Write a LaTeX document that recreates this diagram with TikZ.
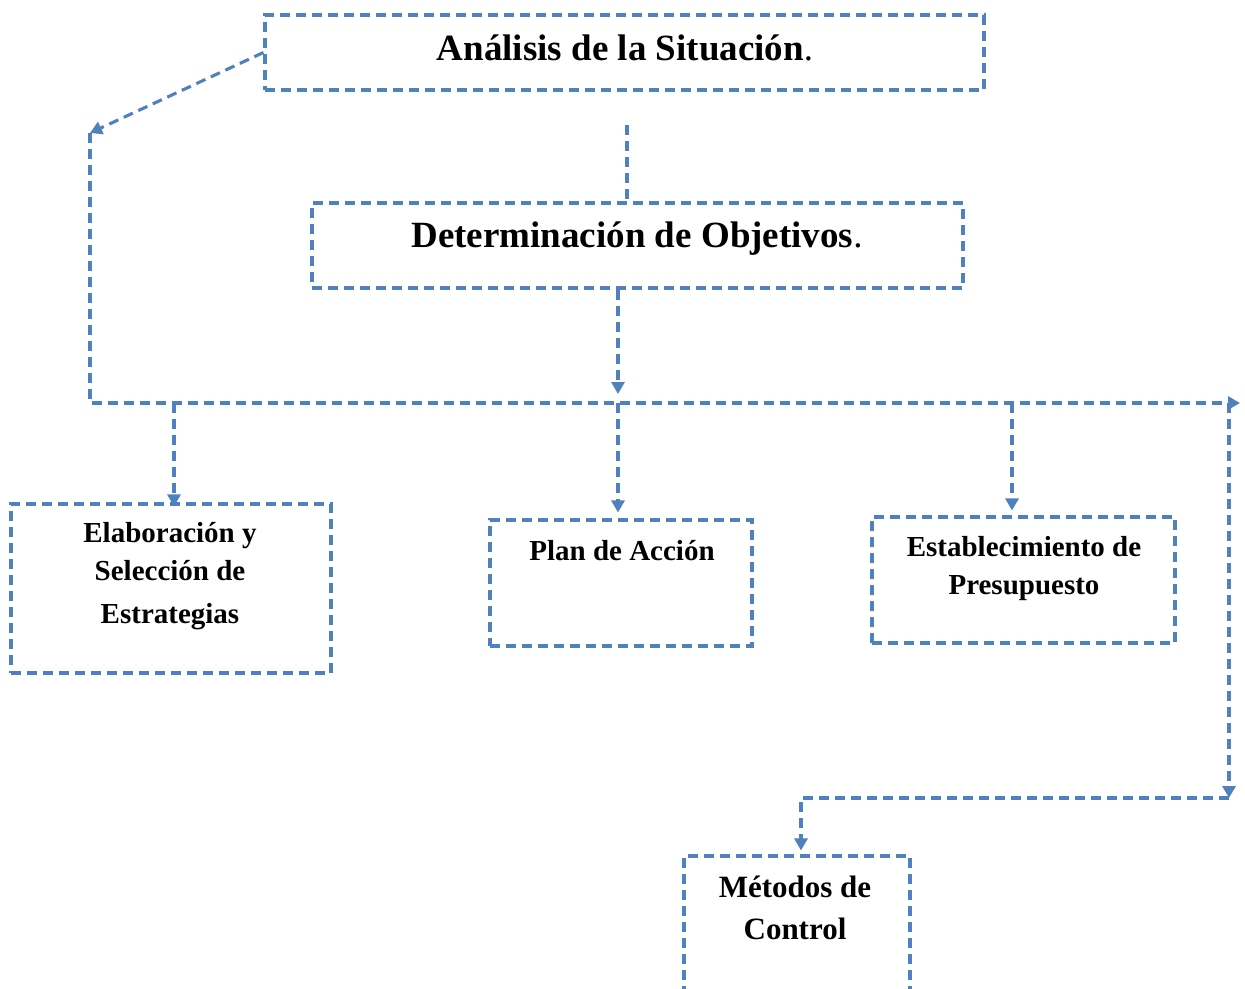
\documentclass[tikz,border=0pt]{standalone}
\usepackage{fontspec}
\setmainfont{Liberation Serif}
\usetikzlibrary{arrows.meta}
\definecolor{flow}{RGB}{79,129,189}
\tikzset{
  flowline/.style={draw=flow, line width=3.1pt, dash pattern=on 10pt off 6pt},
  flowbox/.style={flowline, rectangle, inner sep=0pt},
  flowarrow/.style={flowline, -{Triangle[length=12pt,width=13pt]}},
  bigtext/.style={font=\bfseries\fontsize{37}{44}\selectfont, inner sep=0pt},
  smalltext/.style={font=\bfseries\fontsize{29}{38}\selectfont, align=center, inner sep=0pt},
}
\begin{document}
\begin{tikzpicture}[x=1pt, y=-1pt]
\useasboundingbox (0,0) rectangle (1245,988);
\clip (0,0) rectangle (1245,988);

% boxes
\node[flowbox, minimum width=719pt, minimum height=75pt] (analisis) at (624.5,52.5) {};
\node[flowbox, minimum width=651pt, minimum height=85pt] (objetivos) at (637.5,245.5) {};
\node[flowbox, minimum width=320pt, minimum height=169pt] (estrategias) at (171,588.5) {};
\node[flowbox, minimum width=262pt, minimum height=126pt] (plan) at (621,583) {};
\node[flowbox, minimum width=303pt, minimum height=126pt] (presupuesto) at (1023.5,580) {};
\node[flowbox, minimum width=226pt, minimum height=170pt] (control) at (797,941) {};

% labels
\node[bigtext] (tAnalisis) at (625,48) {Análisis de la Situación\textmd{.}};
\node[bigtext] (tObjetivos) at (637,239) {Determinación de Objetivos\textmd{.}};
\node[smalltext] (tEstrategias) at (170,576) {Elaboración y\\ Selección de\\[5pt] Estrategias};
\node[smalltext] (tPlan) at (622,551) {Plan de Acción};
\node[smalltext] (tPresupuesto) at (1024,569) {Establecimiento de\\ Presupuesto};
\node[smalltext, font=\bfseries\fontsize{31}{42}\selectfont] (tControl) at (795,908) {Métodos de\\ Control};

% bus and corner points
\coordinate (topstub) at (627,125);
\coordinate (corner) at (90,133);
\coordinate (busleft) at (90,403);
\coordinate (busright) at (1240,403);
\coordinate (jE) at (174,403);
\coordinate (jP) at (618,403);
\coordinate (jB) at (1012,403);
\coordinate (jC) at (1229,403);
\coordinate (turn) at (1229,798);
\coordinate (drop) at (801,798);

% connectors
\draw[flowarrow] (analisis.west) -- (corner);
\draw[flowarrow] (corner) -- (busleft) -- (busright);
\draw[flowline] (topstub) -- (topstub |- objetivos.north);
\draw[flowarrow, shorten >=9pt] (objetivos.south -| jP) -- (jP);
\draw[flowarrow, shorten >=-4pt] (jE) -- (jE |- estrategias.north);
\draw[flowarrow, shorten >=6pt] (jP) -- (jP |- plan.north);
\draw[flowarrow, shorten >=5pt] (jB) -- (jB |- presupuesto.north);
\draw[flowarrow] (jC) -- (turn);
\draw[flowarrow, shorten >=4pt] (turn) -- (drop) -- (drop |- control.north);
\end{tikzpicture}
\end{document}
